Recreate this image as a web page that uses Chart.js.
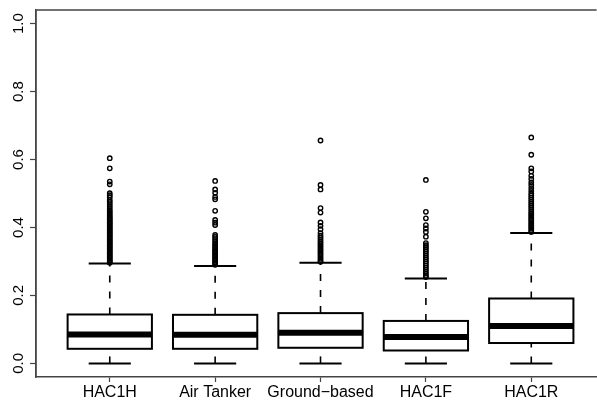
<!DOCTYPE html>
<html>
<head>
<meta charset="utf-8">
<script src="https://cdn.jsdelivr.net/npm/chart.js@4"></script>
<style>
html,body{margin:0;padding:0;background:#fff;overflow:hidden;width:597px;height:400px;}
#wrap{width:597px;height:400px;overflow:hidden;position:relative;}
#c{position:absolute;left:0;top:0;}
</style>
</head>
<body>
<div id="wrap"><canvas id="c" width="602" height="400"></canvas></div>
<script>
// ---- data ----
const categories = ["HAC1H", "Air Tanker", "Ground\u2212based", "HAC1F", "HAC1R"];
const whiskerLow  = [0.0,   0.0,   0.0,   0.0,   0.0];
const q1          = [0.043, 0.043, 0.046, 0.038, 0.060];
const median      = [0.085, 0.084, 0.090, 0.078, 0.110];
const q3          = [0.144, 0.143, 0.148, 0.125, 0.191];
const whiskerHigh = [0.294, 0.287, 0.296, 0.250, 0.384];
const outHAC1H = [0.604, 0.574, 0.535, 0.527, 0.501, 0.495, 0.489, 0.481, 0.475, 0.469, 0.463, 0.457, 0.451, 0.446,
  0.441, 0.436, 0.431, 0.427, 0.423, 0.419, 0.415, 0.411, 0.407, 0.403, 0.399, 0.395, 0.391, 0.387, 0.383, 0.379,
  0.375, 0.371, 0.367, 0.363, 0.359, 0.355, 0.351, 0.347, 0.343, 0.339, 0.335, 0.331, 0.327, 0.323, 0.319, 0.315,
  0.311, 0.307, 0.303, 0.299, 0.296];
const outAirTanker = [0.537, 0.512, 0.502, 0.490, 0.483, 0.449, 0.422, 0.414, 0.407, 0.378, 0.372, 0.366, 0.360,
  0.354, 0.349, 0.344, 0.339, 0.334, 0.330, 0.326, 0.322, 0.318, 0.314, 0.310, 0.306, 0.302, 0.298, 0.294, 0.290];
const outGround = [0.656, 0.525, 0.512, 0.457, 0.444, 0.415, 0.405, 0.395, 0.383, 0.376, 0.370, 0.364, 0.358, 0.353,
  0.348, 0.343, 0.338, 0.333, 0.328, 0.323, 0.318, 0.313, 0.308, 0.303, 0.299];
const outHAC1F = [0.540, 0.446, 0.427, 0.407, 0.397, 0.387, 0.373, 0.354, 0.348, 0.342, 0.336, 0.330, 0.324, 0.318,
  0.312, 0.306, 0.300, 0.294, 0.288, 0.282, 0.276, 0.270, 0.264, 0.258, 0.254];
const outHAC1R = [0.665, 0.614, 0.574, 0.565, 0.552, 0.543, 0.533, 0.525, 0.516, 0.508, 0.500, 0.494, 0.488, 0.482,
  0.476, 0.470, 0.464, 0.458, 0.452, 0.446, 0.441, 0.436, 0.431, 0.426, 0.421, 0.416, 0.411, 0.406, 0.401, 0.396,
  0.391, 0.387];
const outliers = [outHAC1H, outAirTanker, outGround, outHAC1F, outHAC1R];
const yTicks = [0.0, 0.2, 0.4, 0.6, 0.8, 1.0];
const xTicks = [1, 2, 3, 4, 5];

// ---- chart ----
const FONT = "'Liberation Sans', Arial, Helvetica, sans-serif";
const boxWex = 0.8;   // box width in category units
const stapleWex = 0.4;

const outlierData = [];
outliers.forEach((arr, i) => arr.forEach(v => outlierData.push({x: i + 1, y: v})));

const boxPlugin = {
  id: 'rbox',
  beforeDatasetsDraw(chart) {
    const ctx = chart.ctx, xs = chart.scales.x, ys = chart.scales.y;
    ctx.save();
    ctx.strokeStyle = '#000';
    categories.forEach((c, i) => {
      const xc = xs.getPixelForValue(i + 1);
      const xl = xs.getPixelForValue(i + 1 - boxWex / 2);
      const xr = xs.getPixelForValue(i + 1 + boxWex / 2);
      const sl = xs.getPixelForValue(i + 1 - stapleWex / 2);
      const sr = xs.getPixelForValue(i + 1 + stapleWex / 2);
      const yq1 = ys.getPixelForValue(q1[i]), yq3 = ys.getPixelForValue(q3[i]);
      const ym = ys.getPixelForValue(median[i]);
      const ylo = ys.getPixelForValue(whiskerLow[i]), yhi = ys.getPixelForValue(whiskerHigh[i]);
      // whiskers (dashed)
      ctx.lineWidth = 1.6;
      ctx.setLineDash([7, 9]);
      ctx.beginPath(); ctx.moveTo(xc, yq3); ctx.lineTo(xc, yhi); ctx.stroke();
      ctx.beginPath(); ctx.moveTo(xc, ylo); ctx.lineTo(xc, yq1); ctx.stroke();
      ctx.setLineDash([]);
      // staples
      ctx.lineWidth = 2;
      ctx.beginPath(); ctx.moveTo(sl, yhi); ctx.lineTo(sr, yhi); ctx.stroke();
      ctx.beginPath(); ctx.moveTo(sl, ylo); ctx.lineTo(sr, ylo); ctx.stroke();
      // box
      ctx.lineWidth = 2;
      ctx.strokeRect(xl, yq3, xr - xl, yq1 - yq3);
      // median
      ctx.lineWidth = 6;
      ctx.lineCap = 'butt';
      ctx.beginPath(); ctx.moveTo(xl, ym); ctx.lineTo(xr, ym); ctx.stroke();
    });
    ctx.restore();
  },
  afterDraw(chart) {
    const ctx = chart.ctx, a = chart.chartArea, ys = chart.scales.y;
    ctx.save();
    // frame: left + top (right side lies outside the visible picture)
    ctx.strokeStyle = '#444';
    ctx.lineWidth = 1.4;
    ctx.beginPath();
    ctx.moveTo(a.left, a.bottom); ctx.lineTo(a.left, a.top); ctx.lineTo(a.right, a.top);
    ctx.stroke();
    // rotated y labels
    ctx.fillStyle = '#000';
    ctx.font = "15px " + FONT;
    ctx.textAlign = 'center';
    ctx.textBaseline = 'middle';
    yTicks.forEach(v => {
      const y = ys.getPixelForValue(v);
      ctx.save();
      ctx.translate(19, y);
      ctx.rotate(-Math.PI / 2);
      ctx.fillText(v.toFixed(1), 0, 0);
      ctx.restore();
    });
    ctx.restore();
  }
};

new Chart(document.getElementById('c'), {
  type: 'scatter',
  data: {
    datasets: [{
      data: outlierData,
      pointStyle: 'circle',
      pointRadius: 2.2,
      pointBorderWidth: 1.4,
      pointBorderColor: '#000',
      pointBackgroundColor: 'rgba(255,255,255,0)'
    }]
  },
  options: {
    responsive: false,
    animation: false,
    layout: { padding: { top: 10, right: 0, left: 0, bottom: 0 } },
    plugins: { legend: { display: false }, tooltip: { enabled: false } },
    scales: {
      x: {
        type: 'linear',
        min: 0.3, max: 5.62,
        afterBuildTicks: s => { s.ticks = xTicks.map(v => ({ value: v })); },
        afterFit: s => { s.height = 23; },
        grid: { drawOnChartArea: false, drawTicks: true, tickLength: 5, color: '#444', tickWidth: 1.2 },
        border: { display: true, color: '#444', width: 1.4 },
        ticks: {
          color: '#000',
          padding: 1,
          font: { family: FONT, size: 16 },
          maxRotation: 0, minRotation: 0, autoSkip: false,
          callback: v => categories[v - 1] || ''
        }
      },
      y: {
        type: 'linear',
        min: -0.04, max: 1.04,
        afterBuildTicks: s => { s.ticks = yTicks.map(v => ({ value: v })); },
        afterFit: s => { s.width = 36; },
        grid: { drawOnChartArea: false, drawTicks: true, tickLength: 6, color: '#444', tickWidth: 1.2 },
        border: { display: true, color: '#444', width: 1.4 },
        ticks: { display: false }
      }
    }
  },
  plugins: [boxPlugin]
});
</script>
</body>
</html>
